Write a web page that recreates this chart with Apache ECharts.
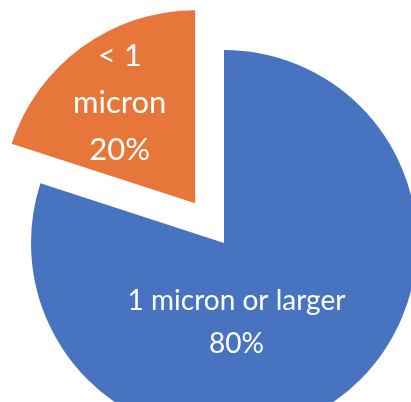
<!DOCTYPE html>
<html>
<head>
<meta charset="utf-8">
<script src="https://cdn.jsdelivr.net/npm/echarts@6/dist/echarts.min.js"></script>
<style>
  html, body { margin: 0; padding: 0; background: #fff; }
  #chart { width: 411px; height: 402px; }
</style>
</head>
<body>
<div id="chart"></div>
<script>
// Particle size split
const categories = ['1 micron or larger', '< 1\nmicron'];
const shares = [80, 20];
const sliceColors = ['#4773C1', '#E7763A'];
const explodedSlice = 1;

// Per-slice label size and nudge relative to the default inside position
const labelFontSize = [28, 31];
const labelLineHeight = [43, 47];
const labelShift = [[-46, -1], [-17, -20]];

const chart = echarts.init(document.getElementById('chart'), null, { renderer: 'canvas' });

chart.setOption({
  animation: false,
  series: [{
    type: 'pie',
    center: [224, 243],
    radius: [0, 193],
    startAngle: 90,
    clockwise: true,
    selectedMode: 'single',
    selectedOffset: 49,
    avoidLabelOverlap: false,
    emphasis: { disabled: true },
    label: {
      show: true,
      position: 'inside',
      color: '#ffffff',
      fontFamily: 'Lato',
      align: 'center',
      formatter: function (p) { return p.name + '\n' + p.value + '%'; }
    },
    labelLine: { show: false },
    labelLayout: function (p) {
      const s = labelShift[p.dataIndex];
      return { dx: s[0], dy: s[1] };
    },
    data: categories.map(function (name, i) {
      return {
        name: name,
        value: shares[i],
        selected: i === explodedSlice,
        itemStyle: { color: sliceColors[i] },
        label: { fontSize: labelFontSize[i], lineHeight: labelLineHeight[i] }
      };
    })
  }]
});
</script>
</body>
</html>
